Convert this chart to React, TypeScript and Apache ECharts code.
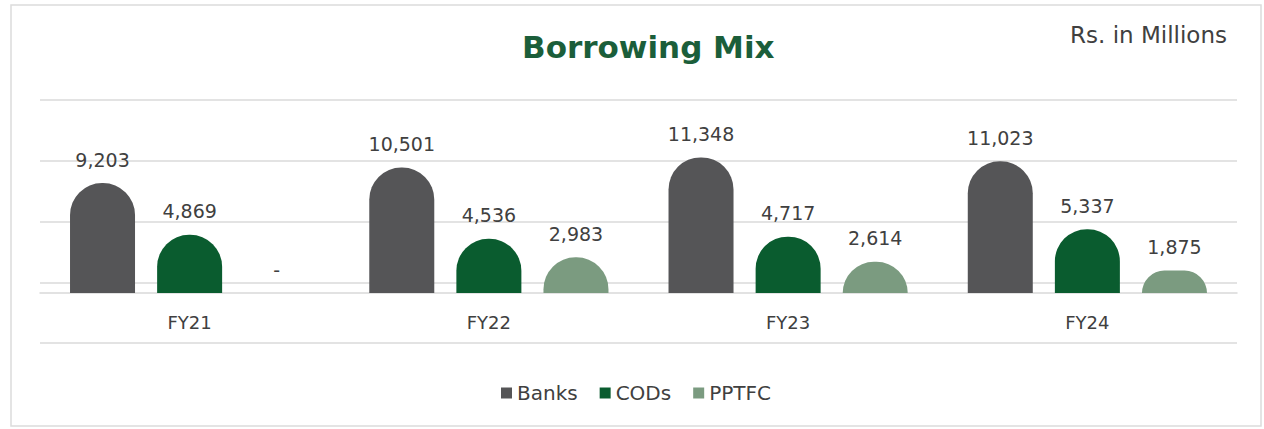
import React, { useEffect, useRef } from "react";
import * as echarts from "echarts";

const categories = ["FY21", "FY22", "FY23", "FY24"];
const banks = [9203, 10501, 11348, 11023];
const cods = [4869, 4536, 4717, 5337];
const pptfc = [0, 2983, 2614, 1875];
const seriesNames = ["Banks", "CODs", "PPTFC"];
const colors = ["#555557", "#0a5c2f", "#7b9b80"];

const FONT = "DejaVu Sans";
const TEXT = "#404040";

export default function App() {
  const ref = useRef<HTMLDivElement>(null);
  useEffect(() => {
    if (!ref.current) return;
    const chart = echarts.init(ref.current, undefined, { renderer: "svg" });
    const fmt = (p: any) => (p.value === 0 ? "-" : Number(p.value).toLocaleString("en-US"));
    const mk = (name: string, data: number[], color: string) => ({
      name,
      type: "bar",
      data,
      yAxisIndex: 0,
      barWidth: 65,
      barGap: "34%",
      itemStyle: { color, borderRadius: [32, 32, 0, 0] },
      label: {
        show: true,
        position: "top",
        distance: 14,
        formatter: fmt,
        color: TEXT,
        fontSize: 19,
        fontFamily: FONT,
      },
    });
    chart.setOption({
      animation: false,
      backgroundColor: "#ffffff",
      title: [
        {
          text: "Borrowing Mix",
          left: 517,
          top: 26,
          textStyle: { color: "#1b5e3a", fontSize: 31, fontWeight: "bold", fontFamily: FONT },
        },
        {
          text: "Rs. in Millions",
          right: 32,
          top: 18,
          textStyle: { color: TEXT, fontSize: 23, fontWeight: "normal", fontFamily: FONT },
        },
      ],
      graphic: [
        {
          type: "rect",
          shape: { x: 11, y: 5, width: 1250, height: 421 },
          style: { fill: "none", stroke: "#dcdcdc", lineWidth: 1.5 },
          silent: true,
        },
      ],
      legend: {
        data: seriesNames,
        left: 496,
        top: 378,
        icon: "rect",
        itemWidth: 11,
        itemHeight: 11,
        itemGap: 22,
        textStyle: { color: TEXT, fontSize: 20, fontFamily: FONT },
      },
      grid: { left: 40, right: 27, top: 100, bottom: 86 },
      xAxis: {
        type: "category",
        data: categories,
        position: "bottom",
        offset: -50,
        axisLine: { show: true, onZero: false, lineStyle: { color: "#d9d9d9", width: 1.5 } },
        axisTick: { show: false },
        axisLabel: { color: TEXT, fontSize: 18, fontFamily: FONT, margin: 20 },
      },
      yAxis: [
        {
          type: "value",
          min: -4184,
          max: 16151,
          show: false,
          splitLine: { show: false },
        },
        {
          type: "value",
          min: 0,
          max: 4,
          interval: 1,
          position: "left",
          axisLine: { show: false },
          axisTick: { show: false },
          axisLabel: { show: false },
          splitLine: { show: true, lineStyle: { color: "#dadada", width: 1.5 } },
        },
      ],
      series: [
        mk(seriesNames[0], banks, colors[0]),
        mk(seriesNames[1], cods, colors[1]),
        mk(seriesNames[2], pptfc, colors[2]),
      ],
    });
    return () => chart.dispose();
  }, []);
  return (
    <div
      ref={ref}
      style={{ position: "absolute", left: 0, top: 0, width: 1264, height: 429 }}
    />
  );
}
